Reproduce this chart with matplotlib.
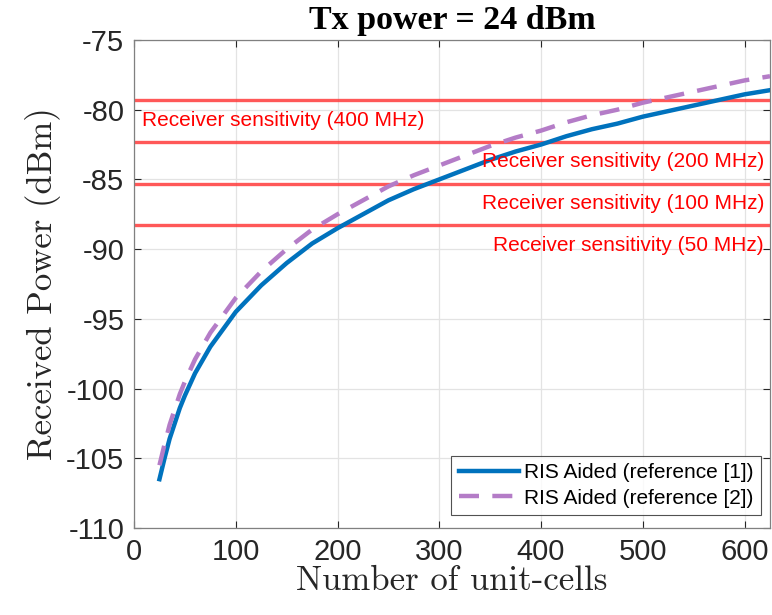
import matplotlib
matplotlib.use("Agg")
import matplotlib.pyplot as plt

plt.rcParams["font.family"] = ["Liberation Sans", "DejaVu Sans"]
plt.rcParams["axes.unicode_minus"] = False

# numero de celdas unitarias de la RIS
n_celdas = [25, 30, 35, 40, 45, 50, 60, 75, 100, 125, 150, 175, 200, 225, 250,
            275, 300, 325, 350, 375, 400, 425, 450, 475, 500, 525, 550, 575,
            600, 625]

# potencia recibida (dBm), referencia [1]
p_ref1 = [-106.5, -105.0, -103.6, -102.5, -101.4, -100.5, -98.9, -97.0, -94.5,
          -92.6, -91.0, -89.6, -88.5, -87.5, -86.5, -85.7, -85.0, -84.3, -83.6,
          -83.0, -82.5, -81.9, -81.4, -81.0, -80.5, -80.1, -79.7, -79.3, -78.9,
          -78.6]

# potencia recibida (dBm), referencia [2]
p_ref2 = [-105.5, -104.0, -102.6, -101.5, -100.4, -99.5, -97.9, -96.0, -93.5,
          -91.6, -90.0, -88.6, -87.5, -86.5, -85.5, -84.7, -84.0, -83.3, -82.6,
          -82.0, -81.5, -80.9, -80.4, -80.0, -79.5, -79.1, -78.7, -78.3, -77.9,
          -77.6]

# sensibilidad del receptor por ancho de banda
anchos_banda = ["400 MHz", "200 MHz", "100 MHz", "50 MHz"]
sensibilidad = [-79.3, -82.3, -85.3, -88.3]

fig = plt.figure(figsize=(7.72, 6.15), dpi=100)
ax = fig.add_axes([0.1736, 0.1415, 0.8238, 0.7935])

for s in sensibilidad:
    ax.axhline(s, color="#ff3b3b", lw=2.4, alpha=0.85, zorder=2)

ax.plot(n_celdas, p_ref1, color="#0072bd", lw=3.2, zorder=3,
        label="RIS Aided (reference [1])")
ax.plot(n_celdas, p_ref2, color="#b47cc7", lw=3.2, dashes=(4.5, 3), zorder=3,
        label="RIS Aided (reference [2])")

# etiquetas de sensibilidad: la primera a la izquierda, el resto a la derecha
ax.text(8, sensibilidad[0] - 1.5, f"Receiver sensitivity ({anchos_banda[0]})",
        color="red", fontsize=15, va="center", ha="left", zorder=4)
for bw, s in zip(anchos_banda[1:], sensibilidad[1:]):
    ax.text(619, s - 1.45, f"Receiver sensitivity ({bw})", color="red",
            fontsize=15, va="center", ha="right", zorder=4)

ax.set_xlim(0, 625)
ax.set_ylim(-110, -75)
ax.set_xticks(range(0, 601, 100))
ax.set_yticks(range(-110, -74, 5))
ax.grid(True, color="#e3e3e3", lw=0.9)
ax.set_axisbelow(True)
ax.tick_params(direction="in", top=True, right=True, labelsize=21,
               colors="#262626", length=5, width=0.8, pad=7)
for sp in ax.spines.values():
    sp.set_color("#808080")
    sp.set_linewidth(0.9)

ax.set_xlabel("Number of unit-cells", fontname="cmr10", fontsize=25,
              color="#262626", labelpad=0)
ax.set_ylabel("Received Power (dBm)", fontname="cmr10", fontsize=25,
              color="#262626", labelpad=4)
ax.set_title("Tx power = 24 dBm", fontname="Liberation Serif",
             fontweight="bold", fontsize=24.5, pad=8)

leg = ax.legend(loc="lower right", fontsize=15, frameon=True, fancybox=False,
                edgecolor="#262626", handlelength=2.9, borderpad=0.35,
                labelspacing=0.3, handletextpad=0.25, borderaxespad=0,
                bbox_to_anchor=(0.986, 0.027))
leg.get_frame().set_linewidth(0.8)

fig.savefig("out.png", dpi=100)
